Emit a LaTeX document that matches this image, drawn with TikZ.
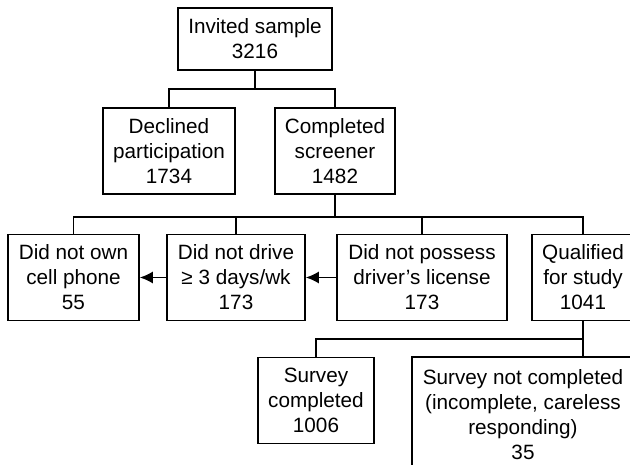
\documentclass[tikz,border=0pt]{standalone}
\usepackage{fontspec}
\setmainfont{Liberation Sans}
\usetikzlibrary{arrows.meta}
\begin{document}
\begin{tikzpicture}[x=1pt,y=-1pt,line width=1.6pt,
        bx/.style={draw,align=center,inner sep=0pt,minimum height=86pt,font=\fontsize{20.7}{25}\selectfont},
        ar/.style={-{Latex[length=13pt,width=12pt]}}]
    \clip (0,0) rectangle (630,465);
    \node[bx,minimum width=154pt,minimum height=62pt] (inv) at (255,39) {Invited sample\\3216};
    \node[bx,minimum width=132pt] (dec) at (169,151) {Declined\\participation\\1734};
    \node[bx,minimum width=120pt] (comp) at (335,151) {Completed\\screener\\1482};
    \foreach \n/\x/\w/\t in {cell/73.5/131/{Did not own\\cell phone\\55},
            drv/236/138/{Did not drive\\≥ 3 days/wk\\173},
            lic/422/170/{Did not possess\\driver’s license\\173},
            qual/583/102/{Qualified\\for study\\1041}} {
        \node[bx,minimum width=\w pt] (\n) at (\x,277.5) {\t};
    }
    \node[bx,minimum width=116pt] (surv) at (316,400.5) {Survey\\completed\\1006};
    \node[bx,minimum width=222pt,minimum height=116pt] (notc) at (523,415) {Survey not completed\\(incomplete, careless\\responding)\\35};
    % tree lines
    \draw (inv.south) -- ++(0,18) coordinate (b1);
    \draw (b1) -| (dec.north);
    \draw (b1) -| (comp.north);
    \draw (comp.south) -- ++(0,22) coordinate (b2);
    \foreach \n in {cell,drv,lic,qual}
        \draw (b2) -| (\n.north);
    \draw (qual.south) -- ++(0,18) coordinate (b3);
    \draw (b3) -| (surv.north);
    \draw (b3) -- (b3 |- notc.north);
    % exclusions
    \draw[ar] (drv.west) -- (cell.east);
    \draw[ar] (lic.west) -- (drv.east);
\end{tikzpicture}
\end{document}
